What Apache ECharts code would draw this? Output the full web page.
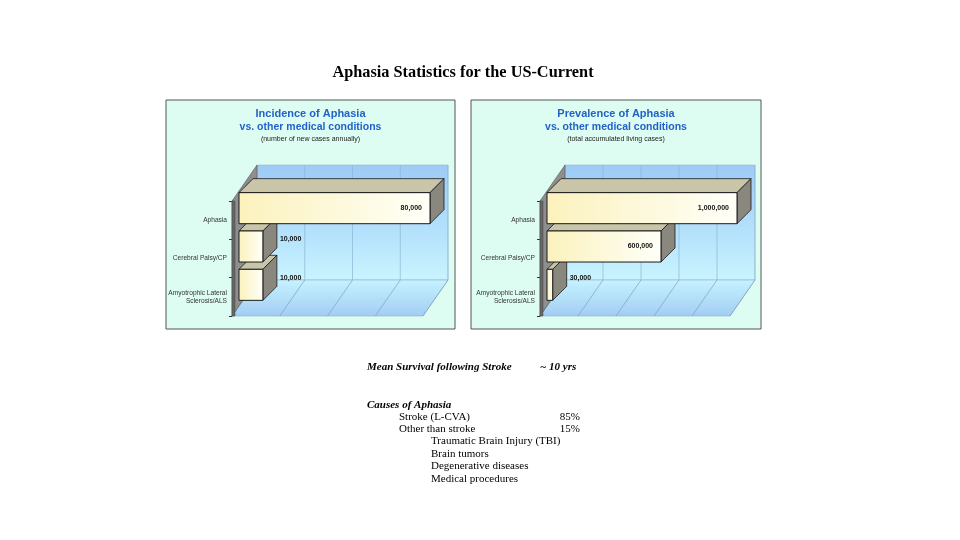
<!DOCTYPE html>
<html>
<head>
<meta charset="utf-8">
<script src="https://cdn.jsdelivr.net/npm/echarts@6/dist/echarts.min.js"></script>
<style>
html,body{margin:0;padding:0;background:#fff;}
#chart{width:960px;height:540px;}
</style>
</head>
<body>
<div id="chart"></div>
<script>
// ---- data ----
const categories = ['Aphasia', 'Cerebral Palsy/CP', 'Amyotrophic Lateral\nSclerosis/ALS'];
const incidenceValues = [80000, 10000, 10000];
const prevalenceValues = [1000000, 600000, 30000];
const incidenceGridValues = [0, 20000, 40000, 60000, 80000];
const prevalenceGridValues = [0, 200000, 400000, 600000, 800000, 1000000];
const mainTitle = 'Aphasia Statistics for the US-Current';
const incidenceTitle = ['Incidence of Aphasia', 'vs. other medical conditions', '(number of new cases annually)'];
const prevalenceTitle = ['Prevalence of Aphasia', 'vs. other medical conditions', '(total accumulated living cases)'];
const survivalLabel = 'Mean Survival following Stroke';
const survivalValue = '~ 10 yrs';
const causesHeading = 'Causes of Aphasia';
const causeNames = ['Stroke (L-CVA)', 'Other than stroke'];
const causeShares = ['85%', '15%'];
const otherCauses = ['Traumatic Brain Injury (TBI)', 'Brain tumors', 'Degenerative diseases', 'Medical procedures'];

// ---- geometry / style ----
const WALL_DX = 25, WALL_DY = -36;
const BAR_OX = 7, BAR_OY = -12, BAR_DX = 14, BAR_DY = -14;
const BLUE = '#2462c8';

function fmt(v) { return v.toLocaleString('en-US'); }

function wallsRenderer(gridValues) {
  return function (params, api) {
    const cs = params.coordSys;
    const x0 = cs.x, y0 = cs.y, w = cs.width, h = cs.height;
    const children = [];
    children.push({
      type: 'rect', z2: 1,
      shape: { x: x0 + WALL_DX, y: y0 + WALL_DY, width: w, height: h },
      style: {
        fill: new echarts.graphic.LinearGradient(0, 0, 0, 1, [
          { offset: 0, color: '#9ecbf6' }, { offset: 0.6, color: '#b5e2fc' }, { offset: 1, color: '#c9f4ff' }
        ]),
        stroke: '#9fb8cc', lineWidth: 0.6
      }
    });
    children.push({
      type: 'polygon', z2: 1,
      shape: { points: [[x0, y0 + h], [x0 + w, y0 + h], [x0 + w + WALL_DX, y0 + h + WALL_DY], [x0 + WALL_DX, y0 + h + WALL_DY]] },
      style: {
        fill: new echarts.graphic.LinearGradient(0, 0, 0, 1, [
          { offset: 0, color: '#c6f2ff' }, { offset: 1, color: '#a2cdf4' }
        ]),
        stroke: '#8fb0cc', lineWidth: 0.6
      }
    });
    gridValues.forEach(function (v) {
      const x = api.coord([v, 0])[0];
      children.push({
        type: 'line', z2: 2,
        shape: { x1: x + WALL_DX, y1: y0 + WALL_DY, x2: x + WALL_DX, y2: y0 + h + WALL_DY },
        style: { stroke: '#8fb3d3', lineWidth: 0.7 }
      });
      children.push({
        type: 'line', z2: 2,
        shape: { x1: x + WALL_DX, y1: y0 + h + WALL_DY, x2: x, y2: y0 + h },
        style: { stroke: '#7f9fbd', lineWidth: 0.7 }
      });
    });
    children.push({
      type: 'polygon', z2: 3,
      shape: { points: [[x0, y0], [x0 + WALL_DX, y0 + WALL_DY], [x0 + WALL_DX, y0 + h + WALL_DY], [x0, y0 + h]] },
      style: { fill: '#8e8e8e', stroke: '#555', lineWidth: 0.6 }
    });
    children.push({
      type: 'rect', z2: 4,
      shape: { x: x0, y: y0, width: 3, height: h },
      style: { fill: '#666', stroke: '#444', lineWidth: 0.5 }
    });
    return { type: 'group', children: children };
  };
}

function barsRenderer(params, api) {
  const idx = params.dataIndex;
  const value = api.value(0);
  const cat = api.value(1);
  const p0 = api.coord([0, cat]);
  const p1 = api.coord([value, cat]);
  const band = api.size([0, 1])[1];
  const bh = band * 0.81;
  const x = p0[0] + BAR_OX;
  const y = p0[1] + BAR_OY - bh / 2;
  const w = p1[0] - p0[0];
  const base = 10 * (10 - idx);
  const stroke = '#1a1a1a';
  const children = [
    {
      type: 'polygon', z2: base + 1,
      shape: { points: [[x, y], [x + w, y], [x + w + BAR_DX, y + BAR_DY], [x + BAR_DX, y + BAR_DY]] },
      style: { fill: '#c9c5a8', stroke: stroke, lineWidth: 0.8 }
    },
    {
      type: 'polygon', z2: base + 1,
      shape: { points: [[x + w, y], [x + w + BAR_DX, y + BAR_DY], [x + w + BAR_DX, y + bh + BAR_DY], [x + w, y + bh]] },
      style: { fill: '#8a887e', stroke: stroke, lineWidth: 0.8 }
    },
    {
      type: 'rect', z2: base + 2,
      shape: { x: x, y: y, width: w, height: bh },
      style: {
        fill: new echarts.graphic.LinearGradient(0, 0, 1, 0, [
          { offset: 0, color: '#fbf2bd' }, { offset: 1, color: '#fffff8' }
        ]),
        stroke: stroke, lineWidth: 1
      }
    }
  ];
  const inside = w > 40;
  children.push({
    type: 'text', z2: base + 3,
    style: {
      text: fmt(value),
      x: inside ? x + w - 8 : x + w + BAR_DX + 3,
      y: inside ? y + bh / 2 : y + bh / 2 - 7,
      align: inside ? 'right' : 'left',
      verticalAlign: 'middle',
      fontFamily: 'Arial, Liberation Sans, sans-serif',
      fontWeight: 'bold',
      fontSize: 7,
      fill: '#111'
    }
  });
  return { type: 'group', children: children };
}

function yAxisCfg(gridIndex) {
  return {
    type: 'category', gridIndex: gridIndex, inverse: true, data: categories,
    axisLine: { show: true, lineStyle: { color: '#333', width: 1 } },
    axisTick: { show: true, length: 3, lineStyle: { color: '#333' } },
    axisLabel: { fontSize: 6.6, color: '#333', margin: 5, fontFamily: 'Arial, Liberation Sans, sans-serif', lineHeight: 8 },
    splitLine: { show: false }
  };
}

function panelTitle(lines, cx) {
  return [
    { type: 'text', z: 5, style: { text: lines[0], x: cx, y: 114, align: 'center', verticalAlign: 'middle', fontFamily: 'Arial, Liberation Sans, sans-serif', fontWeight: 'bold', fontSize: 11, fill: BLUE } },
    { type: 'text', z: 5, style: { text: lines[1], x: cx, y: 127.5, align: 'center', verticalAlign: 'middle', fontFamily: 'Arial, Liberation Sans, sans-serif', fontWeight: 'bold', fontSize: 10.5, fill: BLUE } },
    { type: 'text', z: 5, style: { text: lines[2], x: cx, y: 139.5, align: 'center', verticalAlign: 'middle', fontFamily: 'Arial, Liberation Sans, sans-serif', fontSize: 7, fill: '#222' } }
  ];
}

const serif = 'Liberation Serif, Times New Roman, serif';
const textGraphics = [
  { type: 'text', z: 5, style: { text: mainTitle, x: 463, y: 73, align: 'center', verticalAlign: 'middle', fontFamily: serif, fontWeight: 'bold', fontSize: 16.3, fill: '#000' } },
  { type: 'text', z: 5, style: { text: survivalLabel, x: 367, y: 367, verticalAlign: 'middle', fontFamily: serif, fontWeight: 'bold', fontStyle: 'italic', fontSize: 11, fill: '#000' } },
  { type: 'text', z: 5, style: { text: survivalValue, x: 540, y: 367, verticalAlign: 'middle', fontFamily: serif, fontWeight: 'bold', fontStyle: 'italic', fontSize: 11, fill: '#000' } },
  { type: 'text', z: 5, style: { text: causesHeading, x: 367, y: 405, verticalAlign: 'middle', fontFamily: serif, fontWeight: 'bold', fontStyle: 'italic', fontSize: 11, fill: '#000' } }
];
causeNames.forEach(function (n, i) {
  textGraphics.push({ type: 'text', z: 5, style: { text: n, x: 399, y: 417 + i * 12.3, verticalAlign: 'middle', fontFamily: serif, fontSize: 11, fill: '#000' } });
  textGraphics.push({ type: 'text', z: 5, style: { text: causeShares[i], x: 580, y: 417 + i * 12.3, align: 'right', verticalAlign: 'middle', fontFamily: serif, fontSize: 11, fill: '#000' } });
});
otherCauses.forEach(function (n, i) {
  textGraphics.push({ type: 'text', z: 5, style: { text: n, x: 431, y: 441.6 + i * 12.4, verticalAlign: 'middle', fontFamily: serif, fontSize: 11, fill: '#000' } });
});

const chart = echarts.init(document.getElementById('chart'), null, { renderer: 'canvas' });
chart.setOption({
  backgroundColor: '#ffffff',
  animation: false,
  graphic: [
    { type: 'rect', z: -1, shape: { x: 166, y: 100, width: 289, height: 229 }, style: { fill: '#ddfdf3', stroke: '#555', lineWidth: 1 } },
    { type: 'rect', z: -1, shape: { x: 471, y: 100, width: 290, height: 229 }, style: { fill: '#ddfdf3', stroke: '#555', lineWidth: 1 } }
  ].concat(panelTitle(incidenceTitle, 310.5), panelTitle(prevalenceTitle, 616), textGraphics),
  grid: [
    { left: 232, top: 201, width: 191, height: 115 },
    { left: 540, top: 201, width: 190, height: 115 }
  ],
  xAxis: [
    { type: 'value', gridIndex: 0, min: 0, max: 80000, interval: 20000, show: false },
    { type: 'value', gridIndex: 1, min: 0, max: 1000000, interval: 200000, show: false }
  ],
  yAxis: [yAxisCfg(0), yAxisCfg(1)],
  series: [
    { type: 'custom', xAxisIndex: 0, yAxisIndex: 0, z: 1, silent: true, renderItem: wallsRenderer(incidenceGridValues), data: [[0, 0]] },
    { type: 'custom', xAxisIndex: 1, yAxisIndex: 1, z: 1, silent: true, renderItem: wallsRenderer(prevalenceGridValues), data: [[0, 0]] },
    { type: 'custom', xAxisIndex: 0, yAxisIndex: 0, z: 3, renderItem: barsRenderer, data: incidenceValues.map(function (v, i) { return [v, i]; }) },
    { type: 'custom', xAxisIndex: 1, yAxisIndex: 1, z: 3, renderItem: barsRenderer, data: prevalenceValues.map(function (v, i) { return [v, i]; }) }
  ]
});
</script>
</body>
</html>
